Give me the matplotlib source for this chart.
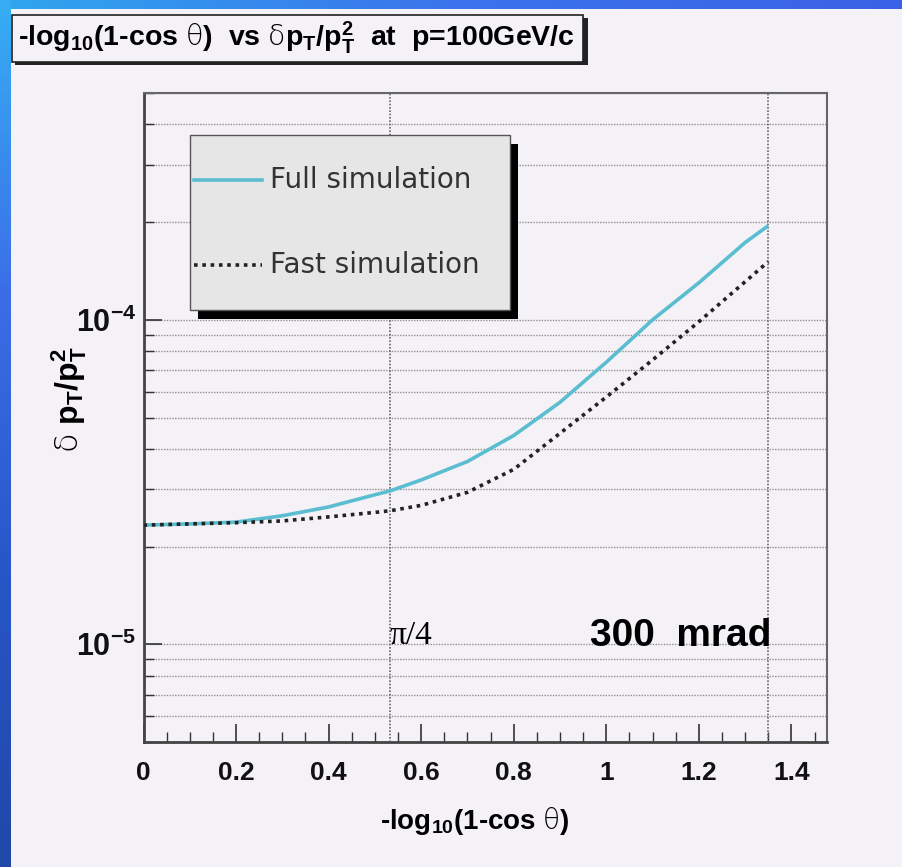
import numpy as np
import matplotlib
matplotlib.use('Agg')
import matplotlib.pyplot as plt
from matplotlib.patches import Rectangle
from matplotlib.ticker import MultipleLocator, LogLocator, NullFormatter

plt.rcParams['font.family'] = ['Liberation Sans', 'DejaVu Sans']
plt.rcParams['mathtext.fontset'] = 'custom'
plt.rcParams['mathtext.rm'] = 'Liberation Sans:bold'
plt.rcParams['mathtext.it'] = 'Liberation Sans:bold'
plt.rcParams['mathtext.bf'] = 'Liberation Sans:bold'
plt.rcParams['mathtext.sf'] = 'DejaVu Sans:light'

# data
x_vals = [0.0, 0.1, 0.2, 0.3, 0.4, 0.5, 0.533, 0.6, 0.7, 0.8, 0.9, 1.0, 1.1, 1.2, 1.3, 1.35]
full_sim = [2.33e-5, 2.35e-5, 2.38e-5, 2.49e-5, 2.65e-5, 2.89e-5, 2.97e-5, 3.21e-5,
            3.66e-5, 4.40e-5, 5.57e-5, 7.40e-5, 1.00e-4, 1.30e-4, 1.73e-4, 1.95e-4]
fast_sim = [2.33e-5, 2.35e-5, 2.37e-5, 2.40e-5, 2.47e-5, 2.55e-5, 2.58e-5, 2.68e-5,
            2.94e-5, 3.46e-5, 4.47e-5, 5.78e-5, 7.52e-5, 9.86e-5, 1.31e-4, 1.51e-4]

# reference angles
x_pi4 = -np.log10(1 - np.cos(np.pi / 4))
x_300mrad = -np.log10(1 - np.cos(0.3))

W, H = 902, 867
bg = '#f5f2f7'
fig = plt.figure(figsize=(W / 100, H / 100), dpi=100, facecolor=bg)

def fx(px):
    return px / W

def fy(py):
    return 1 - py / H

# blue slide border (top and left strips)
top = fig.add_axes([0, fy(9), 1, 9 / H])
top.imshow(np.linspace(0, 1, 200)[None, :], aspect='auto', cmap=matplotlib.colors.LinearSegmentedColormap.from_list('t', ['#2fa6ee', '#3b74ec', '#3a62e6']))
top.axis('off')
left = fig.add_axes([0, 0, 11 / W, 1])
left.imshow(np.linspace(0, 1, 200)[:, None], aspect='auto', cmap=matplotlib.colors.LinearSegmentedColormap.from_list('l', ['#36aef4', '#3b6ee8', '#2856c8', '#2048a8']))
left.axis('off')

# title box with shadow
fig.patches.append(Rectangle((fx(15), fy(65)), fx(573), 47 / H, transform=fig.transFigure,
                             facecolor='#222222', edgecolor='none', zorder=1))
fig.patches.append(Rectangle((fx(12), fy(62)), fx(571), 47 / H, transform=fig.transFigure,
                             facecolor=bg, edgecolor='#222222', lw=1.2, zorder=2))
fig.text(fx(18), fy(38), r'-log$_{10}$(1-cos $\mathsf{\theta}$)  vs $\mathsf{\delta}$p$_T$/p$_T^2$  at  p=100GeV/c',
         fontsize=20.5, fontweight='bold', ha='left', va='center', zorder=3)

ax = fig.add_axes([fx(143.5), fy(742), fx(827 - 143.5), (742 - 93) / H])
ax.set_facecolor(bg)

ax.plot(x_vals, full_sim, color='#5bbdd0', lw=2.6, solid_capstyle='butt', zorder=4)
ax.plot(x_vals, fast_sim, color='#222222', lw=2.6, linestyle=(0, (1, 1.3)), zorder=4)

ax.set_yscale('log')
ax.set_xlim(0, 1.477)
ax.set_ylim(5e-6, 5e-4)

ax.set_xticks([0, 0.2, 0.4, 0.6, 0.8, 1.0, 1.2, 1.4])
ax.set_xticklabels(['0', '0.2', '0.4', '0.6', '0.8', '1', '1.2', '1.4'])
ax.xaxis.set_minor_locator(MultipleLocator(0.05))
ax.set_yticks([1e-5, 1e-4])
ax.set_yticklabels([r'$10^{-5}$', r'$10^{-4}$'])
ax.yaxis.set_minor_locator(LogLocator(base=10, subs=np.arange(2, 10)))
ax.yaxis.set_minor_formatter(NullFormatter())

ax.tick_params(axis='both', which='both', direction='in', top=False, right=False, colors='#333333')
ax.tick_params(axis='both', which='major', length=13, width=1.2, labelsize=19, pad=10, labelcolor='#111111')
ax.tick_params(axis='x', which='major', pad=14)
ax.tick_params(axis='y', which='major', labelsize=22, pad=5)
ax.tick_params(axis='both', which='minor', length=7, width=1.0)
for lab in ax.get_xticklabels():
    lab.set_fontweight('bold')

ax.grid(which='both', axis='y', color='#8e8e8e', linestyle=(0, (1, 1)), lw=1.0)
ax.axvline(x_pi4, color='#666666', linestyle=(0, (1, 1)), lw=1.2, zorder=3)
ax.axvline(x_300mrad, color='#666666', linestyle=(0, (1, 1)), lw=1.2, zorder=3)

for s in ['left', 'bottom']:
    ax.spines[s].set_color('#444444')
    ax.spines[s].set_linewidth(2)
for s in ['top', 'right']:
    ax.spines[s].set_color('#666666')
    ax.spines[s].set_linewidth(1.5)

ax.set_xlabel(r'-log$_{10}$(1-cos $\mathsf{\theta}$)', fontsize=20, fontweight='bold')
ax.xaxis.set_label_coords(0.485, -0.097)
ax.set_ylabel(r'$\mathsf{\delta}$ p$_T$/p$_T^2$', fontsize=23, fontweight='bold')
ax.yaxis.set_label_coords(-0.08, 0.527)

# annotations
ax.text(x_pi4 - 0.002, 1.06e-5, 'π/4', fontsize=24, family='Liberation Serif', ha='left', va='center')
ax.text(0.965, 1.06e-5, '300  mrad', fontsize=28, fontweight='bold', ha='left', va='center')

# legend box with heavy shadow
lx0, lx1 = (190 - 143.5) / 683.5, (510 - 143.5) / 683.5
ly0, ly1 = (742 - 310) / 649, (742 - 135) / 649
ax.add_patch(Rectangle((lx0 + 0.012, ly0 - 0.014), lx1 - lx0, ly1 - ly0, transform=ax.transAxes,
                       facecolor='black', edgecolor='none', zorder=6))
ax.add_patch(Rectangle((lx0, ly0), lx1 - lx0, ly1 - ly0, transform=ax.transAxes,
                       facecolor='#e6e6e6', edgecolor='#555555', lw=1, zorder=7))
row1 = (742 - 180) / 649
row2 = (742 - 265) / 649
h0, h1 = (194 - 143.5) / 683.5, (262 - 143.5) / 683.5
ax.plot([h0, h1], [row1, row1], transform=ax.transAxes, color='#5bbdd0', lw=2.6, zorder=8)
ax.plot([h0, h1], [row2, row2], transform=ax.transAxes, color='#222222', lw=2.6,
        linestyle=(0, (1, 1.3)), zorder=8)
tx = (270 - 143.5) / 683.5
ax.text(tx, row1, 'Full simulation', transform=ax.transAxes, fontsize=20, color='#333333',
        family='DejaVu Sans', ha='left', va='center', zorder=8)
ax.text(tx, row2, 'Fast simulation', transform=ax.transAxes, fontsize=20, color='#333333',
        family='DejaVu Sans', ha='left', va='center', zorder=8)

fig.savefig('out.png', dpi=100, facecolor=bg)
